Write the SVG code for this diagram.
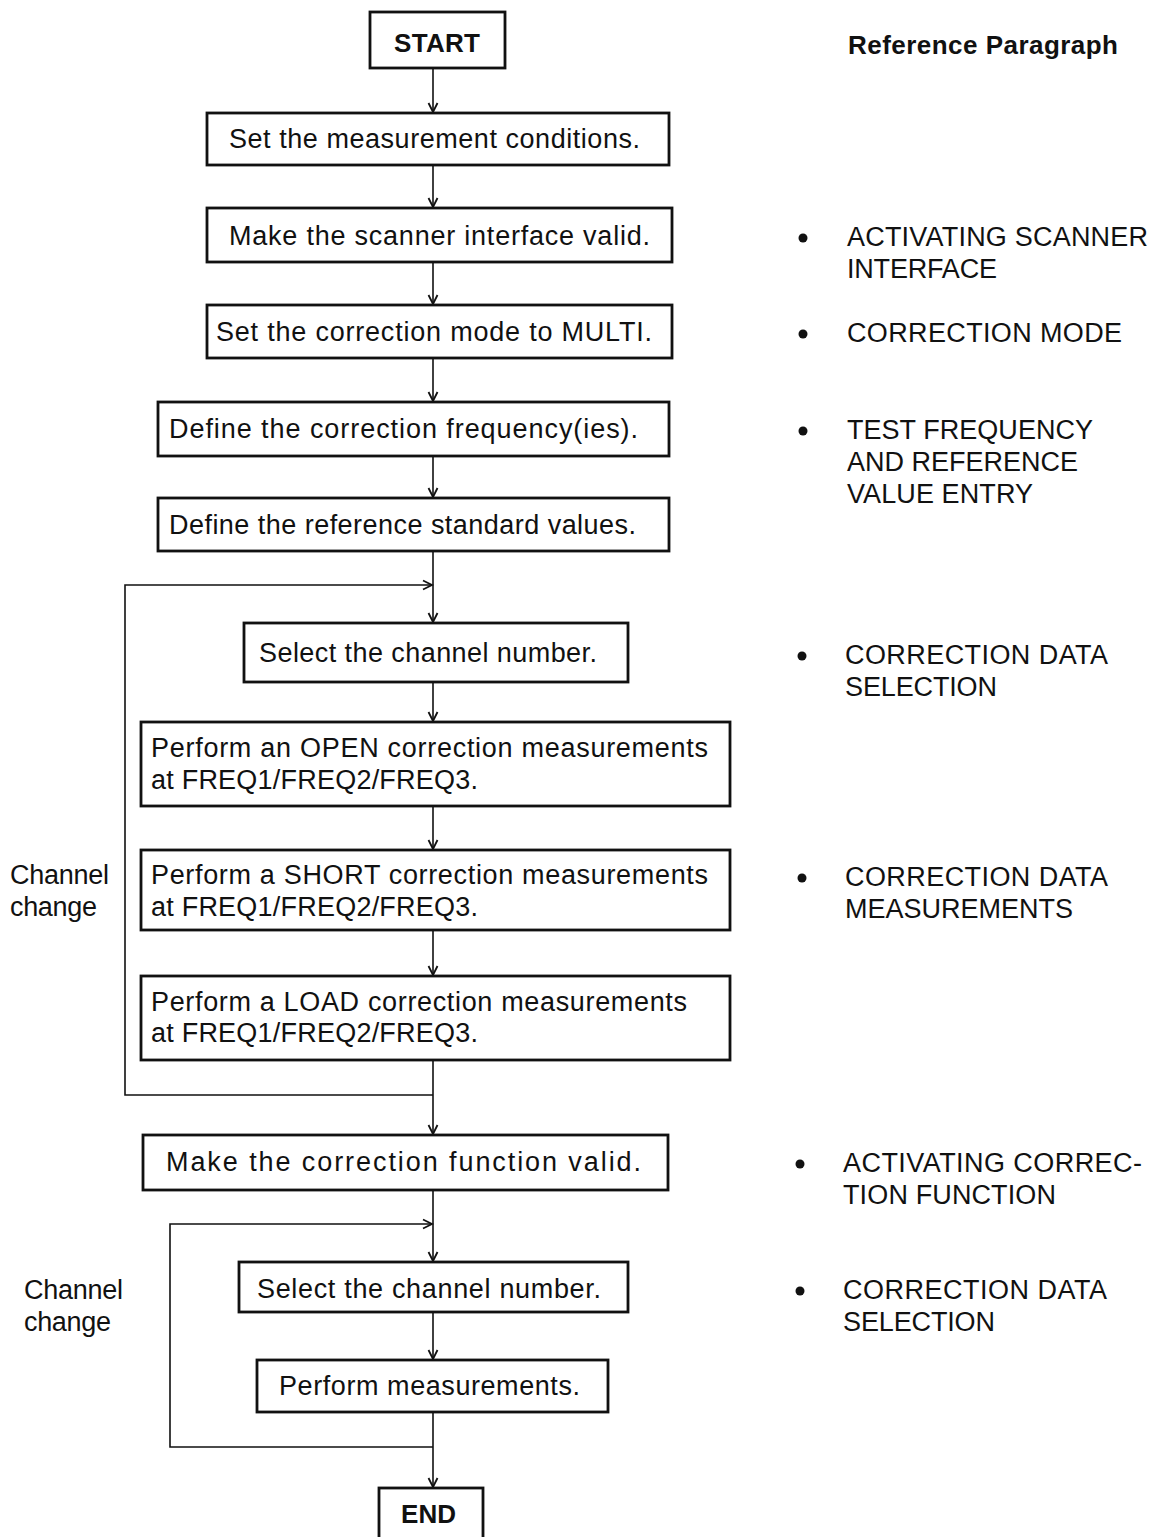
<svg xmlns="http://www.w3.org/2000/svg" width="1156" height="1537" viewBox="0 0 1156 1537">
<defs>
<marker id="arr" markerWidth="12" markerHeight="12" refX="10" refY="6" orient="auto" markerUnits="userSpaceOnUse">
<path d="M1,1.5 L10,6 L1,10.5" fill="none" stroke="#111" stroke-width="1.8"/>
</marker>
</defs>
<style>
.box{fill:#fff;stroke:#111;stroke-width:2.8}
.t{font-family:"Liberation Sans",Arial,sans-serif;font-size:27px;fill:#111}
.b{font-family:"Liberation Sans",Arial,sans-serif;font-size:26px;font-weight:bold;fill:#111}
.c{fill:none;stroke:#111;stroke-width:1.6}
.dot{fill:#111}
</style>
<rect width="1156" height="1537" fill="#fff"/>
<g id="connectors">
<line class="c" x1="433" y1="68" x2="433" y2="112" marker-end="url(#arr)"/>
<line class="c" x1="433" y1="165" x2="433" y2="207" marker-end="url(#arr)"/>
<line class="c" x1="433" y1="262" x2="433" y2="304" marker-end="url(#arr)"/>
<line class="c" x1="433" y1="358" x2="433" y2="401" marker-end="url(#arr)"/>
<line class="c" x1="433" y1="456" x2="433" y2="497" marker-end="url(#arr)"/>
<line class="c" x1="433" y1="551" x2="433" y2="622" marker-end="url(#arr)"/>
<polyline class="c" points="433,1095 125,1095 125,585 432,585" marker-end="url(#arr)"/>
<line class="c" x1="433" y1="682" x2="433" y2="721" marker-end="url(#arr)"/>
<line class="c" x1="433" y1="806" x2="433" y2="849" marker-end="url(#arr)"/>
<line class="c" x1="433" y1="930" x2="433" y2="975" marker-end="url(#arr)"/>
<line class="c" x1="433" y1="1060" x2="433" y2="1134" marker-end="url(#arr)"/>
<line class="c" x1="433" y1="1190" x2="433" y2="1261" marker-end="url(#arr)"/>
<polyline class="c" points="433,1447 170,1447 170,1224 432,1224" marker-end="url(#arr)"/>
<line class="c" x1="433" y1="1312" x2="433" y2="1359" marker-end="url(#arr)"/>
<line class="c" x1="433" y1="1412" x2="433" y2="1487" marker-end="url(#arr)"/>
</g>
<g id="start"><rect class="box" x="370" y="12" width="135" height="56"/><text class="b" x="394" y="52" textLength="86">START</text></g>
<g id="n1"><rect class="box" x="207" y="113" width="462" height="52"/><text class="t" x="229" y="148" textLength="411">Set the measurement conditions.</text></g>
<g id="n2"><rect class="box" x="207" y="208" width="465" height="54"/><text class="t" x="229" y="245" textLength="421">Make the scanner interface valid.</text></g>
<g id="n3"><rect class="box" x="207" y="305" width="465" height="53"/><text class="t" x="216" y="341" textLength="436">Set the correction mode to MULTI.</text></g>
<g id="n4"><rect class="box" x="158" y="402" width="511" height="54"/><text class="t" x="169" y="438" textLength="469">Define the correction frequency(ies).</text></g>
<g id="n5"><rect class="box" x="158" y="498" width="511" height="53"/><text class="t" x="169" y="534" textLength="467">Define the reference standard values.</text></g>
<g id="n6"><rect class="box" x="244" y="623" width="384" height="59"/><text class="t" x="259" y="662" textLength="338">Select the channel number.</text></g>
<g id="n7"><rect class="box" x="141" y="722" width="589" height="84"/><text class="t" x="151" y="757" textLength="557">Perform an OPEN correction measurements</text><text class="t" x="151" y="789" textLength="327">at FREQ1/FREQ2/FREQ3.</text></g>
<g id="n8"><rect class="box" x="141" y="850" width="589" height="80"/><text class="t" x="151" y="884" textLength="557">Perform a SHORT correction measurements</text><text class="t" x="151" y="916" textLength="327">at FREQ1/FREQ2/FREQ3.</text></g>
<g id="n9"><rect class="box" x="141" y="976" width="589" height="84"/><text class="t" x="151" y="1011" textLength="536">Perform a LOAD correction measurements</text><text class="t" x="151" y="1042" textLength="327">at FREQ1/FREQ2/FREQ3.</text></g>
<g id="n10"><rect class="box" x="143" y="1135" width="525" height="55"/><text class="t" x="166" y="1171" textLength="475">Make the correction function valid.</text></g>
<g id="n11"><rect class="box" x="239" y="1262" width="389" height="50"/><text class="t" x="257" y="1298" textLength="344">Select the channel number.</text></g>
<g id="n12"><rect class="box" x="257" y="1360" width="351" height="52"/><text class="t" x="279" y="1395" textLength="301">Perform measurements.</text></g>
<g id="end"><rect class="box" x="379" y="1488" width="104" height="52"/><text class="b" x="401" y="1523" textLength="55">END</text></g>
<g id="labels">
<text class="t" x="10" y="884" textLength="99">Channel</text>
<text class="t" x="10" y="916" textLength="87">change</text>
<text class="t" x="24" y="1299" textLength="99">Channel</text>
<text class="t" x="24" y="1331" textLength="87">change</text>
<text class="b" x="848" y="54" textLength="270" font-size="24">Reference Paragraph</text>
<circle class="dot" cx="803" cy="238" r="4.5"/>
<text class="t" x="847" y="246" textLength="301">ACTIVATING SCANNER</text>
<text class="t" x="847" y="278" textLength="150">INTERFACE</text>
<circle class="dot" cx="803" cy="334" r="4.5"/>
<text class="t" x="847" y="342" textLength="275">CORRECTION MODE</text>
<circle class="dot" cx="803" cy="431" r="4.5"/>
<text class="t" x="847" y="439" textLength="246">TEST FREQUENCY</text>
<text class="t" x="847" y="471" textLength="231">AND REFERENCE</text>
<text class="t" x="847" y="503" textLength="186">VALUE ENTRY</text>
<circle class="dot" cx="802" cy="656" r="4.5"/>
<text class="t" x="845" y="664" textLength="263">CORRECTION DATA</text>
<text class="t" x="845" y="696" textLength="152">SELECTION</text>
<circle class="dot" cx="802" cy="878" r="4.5"/>
<text class="t" x="845" y="886" textLength="263">CORRECTION DATA</text>
<text class="t" x="845" y="918" textLength="228">MEASUREMENTS</text>
<circle class="dot" cx="800" cy="1164" r="4.5"/>
<text class="t" x="843" y="1172" textLength="299">ACTIVATING CORREC-</text>
<text class="t" x="843" y="1204" textLength="213">TION FUNCTION</text>
<circle class="dot" cx="800" cy="1291" r="4.5"/>
<text class="t" x="843" y="1299" textLength="264">CORRECTION DATA</text>
<text class="t" x="843" y="1331" textLength="152">SELECTION</text>
</g>
</svg>
